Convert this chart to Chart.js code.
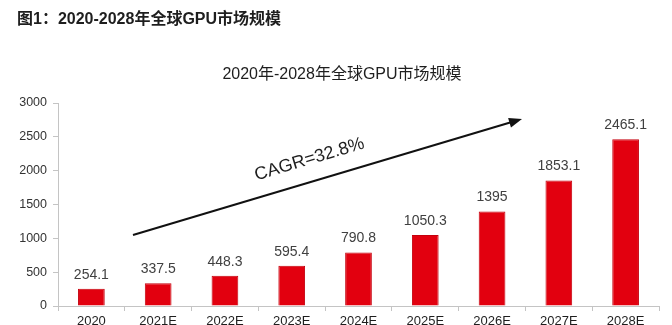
<!DOCTYPE html>
<html>
<head>
<meta charset="utf-8">
<script src="https://cdn.jsdelivr.net/npm/chart.js@4.4.0/dist/chart.umd.min.js"></script>
<style>
  html, body { margin: 0; padding: 0; background: #ffffff; }
  #wrap { width: 672px; height: 325px; position: relative; }
</style>
</head>
<body>
<div id="wrap"><canvas id="c" width="672" height="325"></canvas></div>
<script>
// Global GPU market size, 2020 to 2028 (E = estimate)
const categories = ['2020', '2021E', '2022E', '2023E', '2024E', '2025E', '2026E', '2027E', '2028E'];
const marketSize = [254.1, 337.5, 448.3, 595.4, 790.8, 1050.3, 1395, 1853.1, 2465.1];
const yTicks = [0, 500, 1000, 1500, 2000, 2500, 3000];
const figureTitle = '图1：2020-2028年全球GPU市场规模';
const chartTitle = '2020年-2028年全球GPU市场规模';
const cagrLabel = 'CAGR=32.8%';

const LATIN = '"Liberation Sans", Arial, "Noto Sans CJK SC", sans-serif';
const AXIS_GREY = '#c4c4c4';

const overlay = {
  id: 'overlay',
  afterDatasetsDraw(chart) {
    const ctx = chart.ctx;
    const area = chart.chartArea;
    ctx.save();

    // figure caption and chart heading
    ctx.fillStyle = '#1e1e1e';
    ctx.textBaseline = 'middle';
    ctx.textAlign = 'left';
    ctx.font = 'bold 16px ' + LATIN;
    ctx.fillText(figureTitle, 17, 20);
    ctx.textAlign = 'center';
    ctx.font = '16px ' + LATIN;
    ctx.fillText(chartTitle, 342, 75);

    // value labels above each bar
    const meta = chart.getDatasetMeta(0);
    ctx.fillStyle = '#404040';
    ctx.font = '14px ' + LATIN;
    meta.data.forEach((bar, i) => {
      ctx.fillText(String(marketSize[i]), bar.x, bar.y - 14);
    });

    // growth arrow with CAGR note
    const x0 = area.left + 75, y0 = area.top + 132;
    const x1 = area.left + 464, y1 = area.top + 16;
    const ang = Math.atan2(y1 - y0, x1 - x0);
    ctx.strokeStyle = '#111111';
    ctx.fillStyle = '#111111';
    ctx.lineWidth = 2;
    ctx.beginPath();
    ctx.moveTo(x0, y0);
    ctx.lineTo(x1 - 8 * Math.cos(ang), y1 - 8 * Math.sin(ang));
    ctx.stroke();
    ctx.save();
    ctx.translate(x1, y1);
    ctx.rotate(ang);
    ctx.beginPath();
    ctx.moveTo(0, 0);
    ctx.lineTo(-13, -5);
    ctx.lineTo(-13, 5);
    ctx.closePath();
    ctx.fill();
    ctx.restore();

    const t = 0.47;
    const mx = x0 + (x1 - x0) * t, my = y0 + (y1 - y0) * t;
    ctx.save();
    ctx.translate(mx, my);
    ctx.rotate(ang);
    ctx.fillStyle = '#1e1e1e';
    ctx.font = '18px ' + LATIN;
    ctx.textAlign = 'center';
    ctx.textBaseline = 'alphabetic';
    ctx.fillText(cagrLabel, 0, -17);
    ctx.restore();

    ctx.restore();
  }
};

new Chart(document.getElementById('c'), {
  type: 'bar',
  data: {
    labels: categories,
    datasets: [{
      data: marketSize,
      backgroundColor: '#e2000f',
      borderColor: '#c4000d',
      borderWidth: 1,
      borderSkipped: 'bottom',
      barPercentage: 0.4,
      categoryPercentage: 1.0
    }]
  },
  options: {
    responsive: false,
    animation: false,
    layout: { padding: { left: 0, right: 13, top: 103, bottom: 0 } },
    plugins: {
      legend: { display: false },
      title: { display: false },
      tooltip: { enabled: false }
    },
    scales: {
      x: {
        offset: true,
        grid: { offset: true, drawOnChartArea: false, drawTicks: true, tickLength: 5, color: AXIS_GREY },
        border: { color: AXIS_GREY, width: 1 },
        ticks: { color: '#1e1e1e', font: { size: 13, family: LATIN }, padding: 3, maxRotation: 0, autoSkip: false },
        afterFit(scale) { scale.height = 19; }
      },
      y: {
        min: 0,
        max: 3000,
        afterBuildTicks(scale) { scale.ticks = yTicks.map(v => ({ value: v })); },
        grid: { drawOnChartArea: false, drawTicks: true, tickLength: 5, color: AXIS_GREY },
        border: { color: AXIS_GREY, width: 1 },
        ticks: {
          color: '#333333',
          font: { size: 12.5, family: LATIN },
          padding: 6,
          callback: (v) => String(v)
        },
        afterFit(scale) { scale.width = 58; }
      }
    }
  },
  plugins: [overlay]
});
</script>
</body>
</html>
